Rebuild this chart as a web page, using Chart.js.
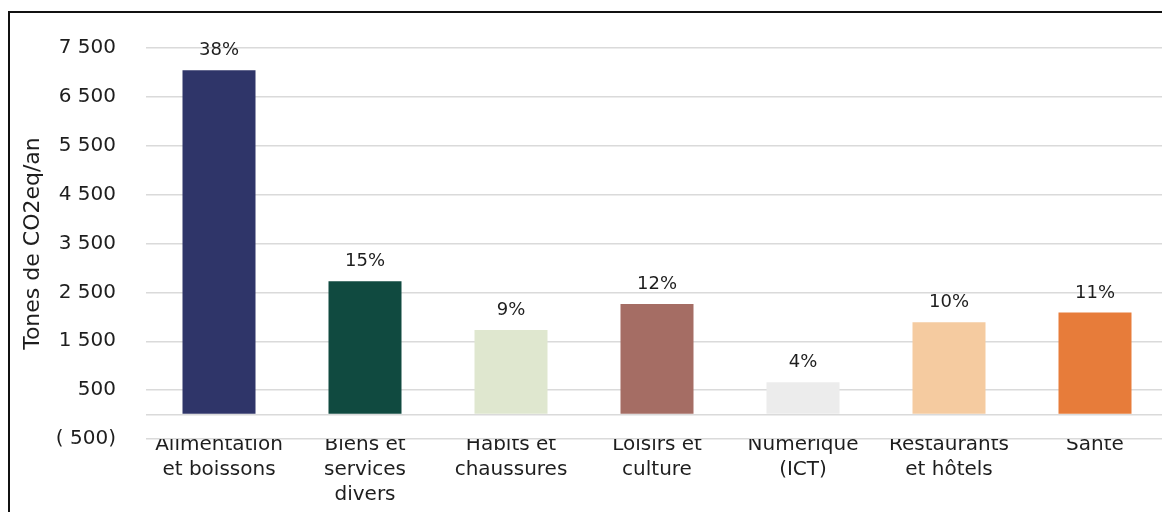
<!DOCTYPE html>
<html>
<head>
<meta charset="utf-8">
<script src="https://cdn.jsdelivr.net/npm/chart.js@4"></script>
<style>
  html, body { margin: 0; padding: 0; background: #fff; overflow: hidden; }
  #wrap { position: relative; width: 1168px; height: 512px; }
  #frame {
    position: absolute; left: 8px; top: 11px; width: 1200px; height: 600px;
    border-left: 2px solid #111; border-top: 2px solid #111;
  }
  canvas { position: absolute; left: 0; top: 0; }
</style>
</head>
<body>
<div id="wrap">
  <div id="frame"></div>
  <canvas id="chart" width="1168" height="512"></canvas>
</div>
<script>
const categories = [
  ['Alimentation', 'et boissons'],
  ['Biens et', 'services', 'divers'],
  ['Habits et', 'chaussures'],
  ['Loisirs et', 'culture'],
  ['Numérique', '(ICT)'],
  ['Restaurants', 'et hôtels'],
  ['Santé'],
];
const emissions = [7045, 2728, 1732, 2264, 660, 1890, 2086];
const barColors = ['#2f3569', '#104a40', '#dfe7cf', '#a56d64', '#ececec', '#f5cba0', '#e77c3a'];
const yTicks = [-500, 500, 1500, 2500, 3500, 4500, 5500, 6500, 7500];

const FONT = '"DejaVu Sans"';
const total = emissions.reduce((a, b) => a + b, 0);

function fmt(v) {
  const s = Math.abs(v).toString().replace(/\B(?=(\d{3})+(?!\d))/g, ' ');
  return v < 0 ? '( ' + s + ')' : s;
}

// percentage share written above each bar
const shareLabels = {
  id: 'shareLabels',
  afterDatasetsDraw(chart) {
    const { ctx } = chart;
    const meta = chart.getDatasetMeta(0);
    ctx.save();
    ctx.font = '18px ' + FONT;
    ctx.fillStyle = '#1e1e1e';
    ctx.textAlign = 'center';
    ctx.textBaseline = 'alphabetic';
    meta.data.forEach((bar, i) => {
      const pct = Math.round((emissions[i] / total) * 100);
      ctx.fillText(pct + '%', bar.x, bar.y - 15);
    });
    ctx.restore();
  },
};

new Chart(document.getElementById('chart'), {
  type: 'bar',
  data: {
    labels: categories,
    datasets: [{
      data: emissions,
      backgroundColor: barColors,
      barPercentage: 0.5,
      categoryPercentage: 1,
    }],
  },
  plugins: [shareLabels],
  options: {
    responsive: false,
    animation: false,
    layout: { padding: { top: 48, right: 0, left: 0, bottom: 0 } },
    plugins: { legend: { display: false }, tooltip: { enabled: false } },
    scales: {
      x: {
        grid: { display: false, drawTicks: false },
        border: { display: false },
        ticks: {
          color: '#1e1e1e',
          font: { family: FONT, size: 20, lineHeight: '25px' },
          padding: -7,
          maxRotation: 0,
          autoSkip: false,
        },
        afterFit(scale) { scale.height = 73; },
      },
      y: {
        min: -500,
        max: 7500,
        afterBuildTicks(scale) {
          scale.ticks = yTicks.concat([0]).sort((a, b) => a - b).map((v) => ({ value: v }));
        },
        grid: { color: '#dadada', lineWidth: 1.5, drawTicks: false },
        border: { display: false },
        ticks: {
          color: '#1e1e1e',
          font: { family: FONT, size: 20 },
          padding: 30,
          callback: (v) => (v === 0 ? '' : fmt(v)),
        },
        title: {
          display: true,
          text: 'Tones de CO2eq/an',
          color: '#1e1e1e',
          font: { family: FONT, size: 22 },
          padding: { top: 20, bottom: 0 },
        },
        afterFit(scale) { scale.width = 146; },
      },
    },
  },
});
</script>
</body>
</html>
